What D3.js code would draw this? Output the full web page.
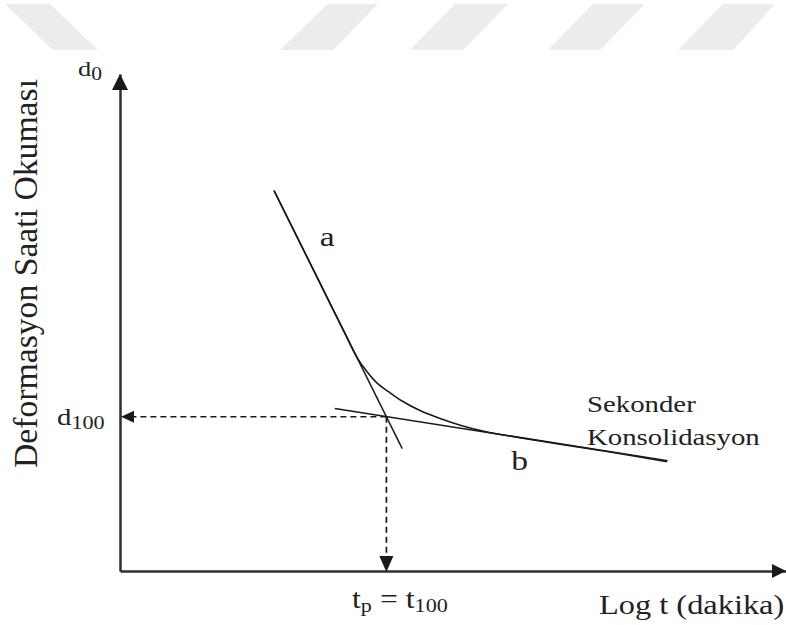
<!DOCTYPE html>
<html>
<head>
<meta charset="utf-8">
<script src="https://cdn.jsdelivr.net/npm/d3@7"></script>
<style>
  html, body { margin: 0; padding: 0; background: #fff; }
  svg { display: block; }
  text { font-family: "Liberation Serif", "Times New Roman", serif; fill: #222; }
</style>
</head>
<body>
<svg id="chart" width="786" height="625"></svg>
<script>
// Casagrande log-time method: dial reading against log t
const logT    = [0.925, 1.067, 1.210, 1.353, 1.426, 1.484, 1.544, 1.610, 1.694, 1.802, 1.922, 2.054, 2.192, 2.402, 2.643, 2.943, 3.285];
const reading = [34.0, 47.9, 61.9, 75.9, 82.9, 86.9, 90.2, 92.6, 95.4, 98.2, 100.5, 102.6, 104.3, 106.1, 108.0, 110.3, 113.1];

// tangent to the steep primary branch (a) and to the secondary branch (b)
const tangentAT = [0.925, 1.695];
const tangentAD = [34.0, 109.3];
const tangentBT = [1.29, 3.29];
const tangentBD = [97.6, 112.8];

// end of primary consolidation (intersection of the tangents)
const tp = 1.6;
const d100 = 100;

const axisDomainT = [0, 4];
const axisDomainD = [0, 145];

const yTitle = "Deformasyon Saati Okuması";
const xTitle = "Log t (dakika)";
const branchLabels = ["a", "b"];
const secondaryLabel = ["Sekonder", "Konsolidasyon"];

// faint diagonal stripes along the top edge of the sheet
const stripes = [
  [[5, 4], [50, 4], [98, 50], [53, 50]],
  [[328, 4], [378, 4], [333, 50], [280, 50]],
  [[455, 4], [508, 4], [463, 50], [410, 50]],
  [[593, 4], [645, 4], [600, 50], [548, 50]],
  [[723, 4], [775, 4], [733, 50], [678, 50]]
];

const svg = d3.select("#chart");
const ink = "#1a1a1a";
const axisInk = "#2e2e2e";
const stretch = 1.2;

const x = d3.scaleLinear().domain(axisDomainT).range([120, 786]);
const y = d3.scaleLinear().domain(axisDomainD).range([74, 571]);

svg.append("g").selectAll("polygon").data(stripes).join("polygon")
  .attr("points", d => d.map(p => p.join(",")).join(" "))
  .attr("fill", "#ececec");

// axes (no ticks, just the arrowed frame)
const x0 = x(axisDomainT[0]);
const yBottom = y(axisDomainD[1]);
const yTop = y(axisDomainD[0]);

const gx = svg.append("g").attr("transform", `translate(0,${yBottom})`)
  .call(d3.axisBottom(x).ticks(0).tickSizeOuter(0));
const gy = svg.append("g").attr("transform", `translate(${x0},0)`)
  .call(d3.axisLeft(y).ticks(0).tickSizeOuter(0));
[gx, gy].forEach(g => g.select(".domain").attr("stroke", axisInk).attr("stroke-width", 2.5));

// axis arrowheads
const xEnd = x(axisDomainT[1]);
svg.append("path")
  .attr("d", `M${xEnd},${yBottom} L${xEnd - 14},${yBottom - 7} L${xEnd - 14},${yBottom + 7} Z`)
  .attr("fill", ink);
svg.append("path")
  .attr("d", `M${x0},${yTop} L${x0 - 8},${yTop + 16} L${x0 + 8},${yTop + 16} Z`)
  .attr("fill", ink);

const line = d3.line().x(d => x(d[0])).y(d => y(d[1]));

// tangents
svg.append("path").datum(d3.zip(tangentAT, tangentAD))
  .attr("d", line).attr("fill", "none").attr("stroke", ink).attr("stroke-width", 1.5);
svg.append("path").datum(d3.zip(tangentBT, tangentBD))
  .attr("d", line).attr("fill", "none").attr("stroke", ink).attr("stroke-width", 1.5);

// consolidation curve
svg.append("path").datum(d3.zip(logT, reading))
  .attr("d", line.curve(d3.curveCatmullRom.alpha(0.5)))
  .attr("fill", "none").attr("stroke", ink).attr("stroke-width", 1.6);
line.curve(d3.curveLinear);

// dashed projections with arrows to d100 and tp
const px = x(tp), py = y(d100);
svg.append("line")
  .attr("x1", px).attr("y1", py).attr("x2", x0 + 12).attr("y2", py)
  .attr("stroke", ink).attr("stroke-width", 1.7).attr("stroke-dasharray", "6,4");
svg.append("path")
  .attr("d", `M${x0 + 1},${py} L${x0 + 14},${py - 6} L${x0 + 14},${py + 6} Z`)
  .attr("fill", ink);
svg.append("line")
  .attr("x1", px).attr("y1", py).attr("x2", px).attr("y2", yBottom - 15)
  .attr("stroke", ink).attr("stroke-width", 1.7).attr("stroke-dasharray", "6,4");
svg.append("path")
  .attr("d", `M${px},${yBottom + 1} L${px - 7},${yBottom - 15} L${px + 7},${yBottom - 15} Z`)
  .attr("fill", ink);

// horizontally widened serif labels
function label(tx, ty, parts, size) {
  const t = svg.append("text")
    .attr("transform", `translate(${tx},${ty}) scale(${stretch},1)`)
    .attr("font-size", size);
  parts.forEach(p => {
    const s = t.append("tspan").text(p.text);
    if (p.size) s.attr("font-size", p.size);
    if (p.dy !== undefined) s.attr("dy", p.dy);
  });
  return t;
}

label(78, 76, [{ text: "d" }, { text: "0", size: 18, dy: 4 }], 22);
label(57, 425, [{ text: "d" }, { text: "100", size: 18.5, dy: 4 }], 24);
label(352, 608, [
  { text: "t" }, { text: "p", size: 18.5, dy: 4 },
  { text: " = t", dy: -4 }, { text: "100", size: 18.5, dy: 4 }
], 26.5);
label(599, 614, [{ text: xTitle }], 27);

label(x(1.2), y(50.3), [{ text: branchLabels[0] }], 28);
label(x(2.35), y(115.5), [{ text: branchLabels[1] }], 28);
label(587, 412, [{ text: secondaryLabel[0] }], 24);
label(587, 445, [{ text: secondaryLabel[1] }], 24);

svg.append("text")
  .attr("transform", "translate(37,468) rotate(-90)")
  .attr("font-size", 34)
  .attr("textLength", 389)
  .attr("lengthAdjust", "spacingAndGlyphs")
  .text(yTitle);
</script>
</body>
</html>
